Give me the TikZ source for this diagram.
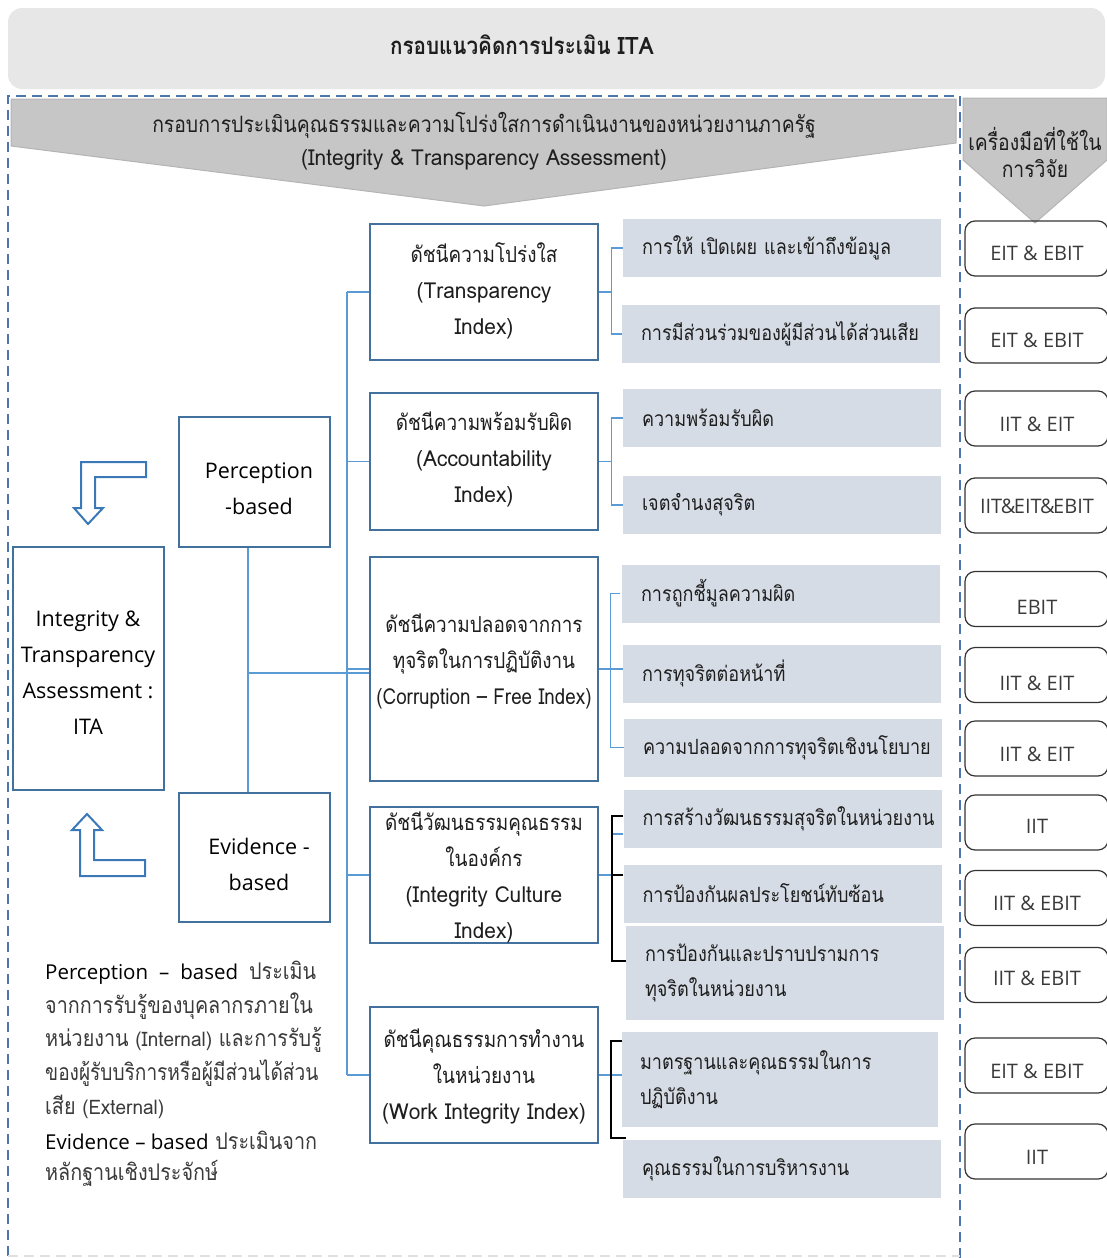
\documentclass[tikz,border=0pt]{standalone}
\usepackage{fontspec}
\setmainfont{Open Sans}
\newfontfamily\thai[Script=Thai,FakeStretch=0.86]{Loma}
\newfontfamily\lat[Script=Thai,FakeStretch=0.95]{Loma}
\usetikzlibrary{calc}
\definecolor{boxblue}{HTML}{41719C}
\definecolor{linkblue}{HTML}{5B9BD5}
\definecolor{dashblue}{HTML}{4A78AC}
\definecolor{arrblue}{HTML}{3A78B8}
\definecolor{chev}{HTML}{C6C6C6}
\definecolor{chevedge}{HTML}{B4B4B4}
\definecolor{topgray}{HTML}{E7E7E7}
\definecolor{subgray}{HTML}{D6DCE5}
\definecolor{txt}{HTML}{1E1E1E}
\definecolor{txtg}{HTML}{3A3A3A}
\begin{document}
\begin{tikzpicture}[x=1pt,y=-1pt,
  ibox/.style={draw=boxblue,line width=2.5pt,fill=white,minimum width=228pt,inner sep=0pt},
  itext/.style={align=center,text=txt,inner sep=0pt,font=\thai\fontsize{22}{36}\selectfont},
  lbox/.style={draw=boxblue,line width=2.5pt,fill=white,minimum width=151pt,inner sep=0pt},
  ltext/.style={align=center,text=black,inner sep=0pt,font=\fontsize{21.5}{36}\selectfont},
  sbox/.style={fill=subgray,minimum width=318pt,minimum height=58pt,text width=280pt,align=left,inner sep=0pt,text=txt,font=\thai\fontsize{21}{35}\selectfont},
  rbox/.style={draw=black!80,line width=1.2pt,rounded corners=10pt,minimum width=143pt,minimum height=55pt,inner sep=0pt},
  rtext/.style={text=txtg,inner sep=0pt,font=\fontsize{20}{24}\selectfont},
  conn/.style={draw=linkblue,line width=1.2pt},
  brk/.style={draw=black,line width=1.8pt},
  chevron/.style={fill=chev,draw=chevedge,line width=1pt},
  hollow/.style={draw=arrblue,line width=2pt,fill=white,line join=miter},
  extext/.style={anchor=west,inner sep=0pt,text=txtg,font=\thai\fontsize{23}{24}\selectfont}]
\useasboundingbox (0,0) rectangle (1107,1258);
\clip (0,0) rectangle (1107,1258);

% title band
\node[fill=topgray,rounded corners=14pt,minimum width=1097pt,minimum height=81pt,inner sep=0pt] (title) at (556.5,48.5) {};
\node[inner sep=0pt,text=txt,font=\thai\bfseries\fontsize{24}{26}\selectfont] (titletext) at (522,45) {กรอบแนวคิดการประเมิน {\lat\bfseries ITA}};

% dashed frame
\draw[draw=dashblue,line width=2pt,dash pattern=on 10pt off 6pt] (8,1256) -- (8,96) -- (960,96) -- (960,1258);
\draw[draw=black!12,line width=2pt,dash pattern=on 10pt off 6pt] (8,1256) -- (960,1256);

% chevrons
\draw[chevron] (11,99) -- (956,99) -- (956,143) -- (484,206) -- (11,146) -- cycle;
\node[itext,font=\thai\fontsize{22.5}{36}\selectfont] (ch1) at (484,125) {กรอบการประเมินคุณธรรมและความโปร่งใสการดำเนินงานของหน่วยงานภาครัฐ};
\node[itext] (ch2) at (484,160) {\lat (Integrity \& Transparency Assessment)};
\draw[chevron] (963,98) -- (1107,98) -- (1107,160) -- (1035,223) -- (963,160) -- cycle;
\node[itext,font=\thai\fontsize{22.5}{36}\selectfont] (ch3) at (1035,139) {เครื่องมือที่ใช้ใน};
\node[itext,font=\thai\fontsize{22.5}{36}\selectfont] (ch4) at (1035,169) {การวิจัย};

% left boxes
\node[lbox,minimum height=130pt] (pb) at (254.5,482) {};
\node[ltext] (pbt) at (259,489) {Perception\\-based};
\node[lbox,minimum height=129pt] (eb) at (254.5,857.5) {};
\node[ltext] (ebt) at (259,864.5) {Evidence -\\based};
\node[lbox,minimum height=243pt] (ita) at (88.5,668.5) {};
\node[ltext] (itat) at (88,673) {Integrity \&\\Transparency\\Assessment :\\ITA};

% hollow bent arrows
\draw[hollow] (146,462) -- (81,462) -- (81,508) -- (74,508) -- (88,524) -- (103,508) -- (95,508) -- (95,477) -- (146,477) -- cycle;
\draw[hollow] (87,814) -- (102,830) -- (94,830) -- (94,860) -- (145,860) -- (145,876) -- (80,876) -- (80,830) -- (72,830) -- cycle;

% index boxes
\node[ibox,minimum height=136pt] (ti) at (484,292) {};
\node[itext] (tit) at (484,291) {ดัชนีความโปร่งใส\\{\lat (Transparency}\\{\lat Index)}};
\node[ibox,minimum height=137pt] (ai) at (484,461.5) {};
\node[itext] (ait) at (484,459) {ดัชนีความพร้อมรับผิด\\{\lat (Accountability}\\{\lat Index)}};
\node[ibox,minimum height=224pt] (cf) at (484,669) {};
\node[itext] (cft) at (484,661) {ดัชนีความปลอดจากการ\\ทุจริตในการปฏิบัติงาน\\{\lat\scalebox{0.9}[1]{(Corruption – Free Index)}}};
\node[ibox,minimum height=136pt] (ic) at (484,875) {};
\node[itext] (ict) at (484,877) {ดัชนีวัฒนธรรมคุณธรรม\\ในองค์กร\\{\lat (Integrity Culture}\\{\lat Index)}};
\node[ibox,minimum height=136pt] (wi) at (484,1075) {};
\node[itext] (wit) at (484,1076) {ดัชนีคุณธรรมการทำงาน\\ในหน่วยงาน\\{\lat (Work Integrity Index)}};

% sub-item boxes
\node[sbox] (g1) at (782,248) {การให้ เปิดเผย และเข้าถึงข้อมูล};
\node[sbox] (g2) at (781,334) {การมีส่วนร่วมของผู้มีส่วนได้ส่วนเสีย};
\node[sbox] (g3) at (782,418) {ความพร้อมรับผิด};
\node[sbox] (g4) at (782,505) {เจตจำนงสุจริต};
\node[sbox] (g5) at (781,593.5) {การถูกชี้มูลความผิด};
\node[sbox] (g6) at (782,673.5) {การทุจริตต่อหน้าที่};
\node[sbox] (g7) at (783,747.5) {ความปลอดจากการทุจริตเชิงนโยบาย};
\node[sbox] (c1) at (782.5,819) {การสร้างวัฒนธรรมสุจริตในหน่วยงาน};
\node[sbox] (c2) at (782.5,893.5) {การป้องกันผลประโยชน์ทับซ้อน};
\node[sbox,minimum height=94pt] (c3) at (785,973) {การป้องกันและปราบปรามการ\\ทุจริตในหน่วยงาน};
\node[sbox,minimum height=95pt,minimum width=316pt] (w1) at (780,1079.5) {มาตรฐานและคุณธรรมในการ\\ปฏิบัติงาน};
\node[sbox] (w2) at (782,1168.5) {คุณธรรมในการบริหารงาน};

% connectors left
\coordinate (jx) at (248,673);
\draw[conn] (jx |- pb.south) -- (jx |- eb.north);
\draw[conn] (jx) -- (jx -| cf.west);
\coordinate (bus) at (347,0);
\draw[conn] (bus |- ti.west) -- (bus |- wi.west);
\foreach \n in {ti,ai,cf,ic,wi} \draw[conn] (bus |- \n.west) -- (\n.west);

% connectors right
\draw[conn] (ti.east) -- ++(12,0);
\draw[conn] (g1.west) -| ([xshift=12pt]ti.east) |- (g2.west);
\draw[conn] (ai.east) -- ++(12,0);
\draw[conn] (g3.west) -| ([xshift=12pt]ai.east) |- (g4.west);
\draw[conn] (cf.east) -- (cf.east -| g6.west);
\draw[conn] ([xshift=-2pt]g5.west) -| ([xshift=11pt]cf.east) |- (g7.west);
\draw[conn] (ic.east) -- ++(14,0);
\draw[conn] ([yshift=-15pt]c1.west) -- ++(-12,0);
\draw[brk] ([yshift=3pt]c1.west) -| ([xshift=-14pt,yshift=12pt]c3.west) -- ([yshift=12pt]c3.west);
\draw[brk] ([yshift=-11pt]c2.north west) -- ++(-12,0);
\draw[conn] (wi.east) -- (wi.east -| w1.west);
\draw[brk] ([yshift=-9pt]w1.north west) -| ([xshift=-12pt,yshift=1pt]w2.north west) -- ([xshift=3pt,yshift=1pt]w2.north west);

% right tool boxes
\foreach \nm/\yc/\ty/\lab in {
  r1/248.5/253/{EIT \& EBIT},
  r2/335.5/340/{EIT \& EBIT},
  r3/418.5/424/{IIT \& EIT},
  r4/505.5/506/{IIT\kern-1.5pt\&\kern-1.5pt EIT\kern-1.5pt\&\kern-1.5pt EBIT},
  r5/599/607/{EBIT},
  r6/675/683/{IIT \& EIT},
  r7/748.5/754/{IIT \& EIT},
  r8/822.5/826/{IIT},
  r9/898/903/{IIT \& EBIT},
  r10/975/978/{IIT \& EBIT},
  r11/1065.5/1071/{EIT \& EBIT},
  r12/1151.5/1157/{IIT}}
{
  \node[rbox] (\nm) at (1036.5,\yc) {};
  \node[rtext] (\nm t) at (1037,\ty) {\lab};
}

% explanatory text
\newcommand{\osf}{\fontspec{Open Sans}\fontsize{20.5}{24}\selectfont}
\node[extext] (ex1) at (45,973) {\makebox[271pt]{\textcolor{black}{{\osf Perception}\hfill{\osf –}\hfill{\osf based}}\hfill ประเมิน}};
\node[extext] (ex2) at (45,1006) {จากการรับรู้ของบุคลากรภายใน};
\node[extext] (ex3) at (45,1040) {หน่วยงาน {\lat\fontsize{20}{24}\selectfont (Internal)} และการรับรู้};
\node[extext] (ex4) at (45,1073) {\scalebox{0.965}[1]{ของผู้รับบริการหรือผู้มีส่วนได้ส่วน}};
\node[extext] (ex5) at (45,1107) {เสีย {\lat\fontsize{20}{24}\selectfont (External)}};
\node[extext] (ex6) at (45,1140) {\textcolor{black}{\osf Evidence – based} ประเมินจาก};
\node[extext] (ex7) at (45,1173) {หลักฐานเชิงประจักษ์};
\end{tikzpicture}
\end{document}
